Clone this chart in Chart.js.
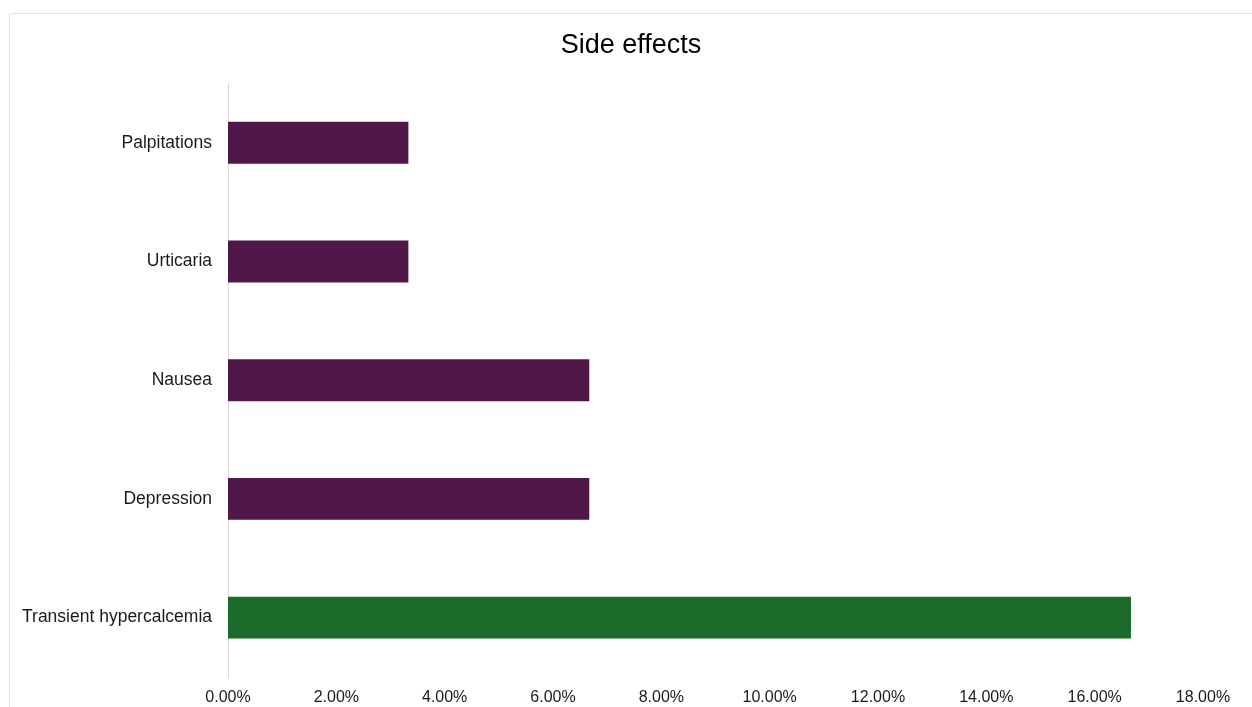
<!DOCTYPE html>
<html>
<head>
<meta charset="utf-8">
<script src="https://cdn.jsdelivr.net/npm/chart.js@4.4.1/dist/chart.umd.min.js"></script>
<style>
  html, body { margin: 0; padding: 0; background: #fff; }
  #wrap { position: relative; width: 1252px; height: 707px; }
</style>
</head>
<body>
<div id="wrap"><canvas id="chart"></canvas></div>
<script>
// side effect share of patients, in percent
const effects = ['Palpitations', 'Urticaria', 'Nausea', 'Depression', 'Transient hypercalcemia'];
const shares = [3.33, 3.33, 6.67, 6.67, 16.67];
const barColors = ['#4f1848', '#4f1848', '#4f1848', '#4f1848', '#1a6a2a'];

// thin grey frame along the top and left edge
const framePlugin = {
  id: 'frame',
  beforeDraw(chart) {
    const ctx = chart.ctx;
    ctx.save();
    ctx.strokeStyle = '#e3e3e3';
    ctx.lineWidth = 1;
    ctx.beginPath();
    ctx.moveTo(9.5, chart.height);
    ctx.lineTo(9.5, 13.5);
    ctx.lineTo(chart.width, 13.5);
    ctx.stroke();
    ctx.restore();
  }
};

// centre the title on the whole canvas instead of the padded box
const titleShift = {
  id: 'titleShift',
  afterLayout(chart) {
    const t = chart.titleBlock;
    if (!t) return;
    const shift = (chart.width - (t.left + t.right)) / 2 + 5;
    t.left += shift;
    t.right += shift;
  }
};

new Chart('chart', {
  type: 'bar',
  data: {
    labels: effects,
    datasets: [{
      data: shares,
      backgroundColor: barColors,
      barPercentage: 0.353,
      categoryPercentage: 1
    }]
  },
  options: {
    indexAxis: 'y',
    responsive: true,
    maintainAspectRatio: false,
    animation: false,
    layout: { padding: { top: 0, right: 49, bottom: 0, left: 0 } },
    plugins: {
      legend: { display: false },
      tooltip: { enabled: false },
      title: {
        display: true,
        text: 'Side effects',
        color: '#000',
        font: { family: 'Liberation Sans, Arial, sans-serif', size: 27, weight: 'normal' },
        padding: { top: 29, bottom: 22 }
      }
    },
    scales: {
      x: {
        min: 0,
        max: 18,
        grid: { display: false, drawTicks: false },
        border: { display: false },
        ticks: {
          stepSize: 2,
          padding: 11,
          color: '#1a1a1a',
          font: { family: 'Liberation Sans, Arial, sans-serif', size: 16 },
          maxRotation: 0,
          callback: v => v.toFixed(2) + '%'
        },
        afterFit(scale) { scale.height = 30; }
      },
      y: {
        grid: { display: false, drawTicks: false },
        border: { display: true, color: '#d9d9d9', width: 1 },
        ticks: {
          padding: 16,
          color: '#1a1a1a',
          font: { family: 'Liberation Sans, Arial, sans-serif', size: 17.5 }
        },
        afterFit(scale) { scale.width = 228; }
      }
    }
  },
  plugins: [framePlugin, titleShift]
});
</script>
</body>
</html>
